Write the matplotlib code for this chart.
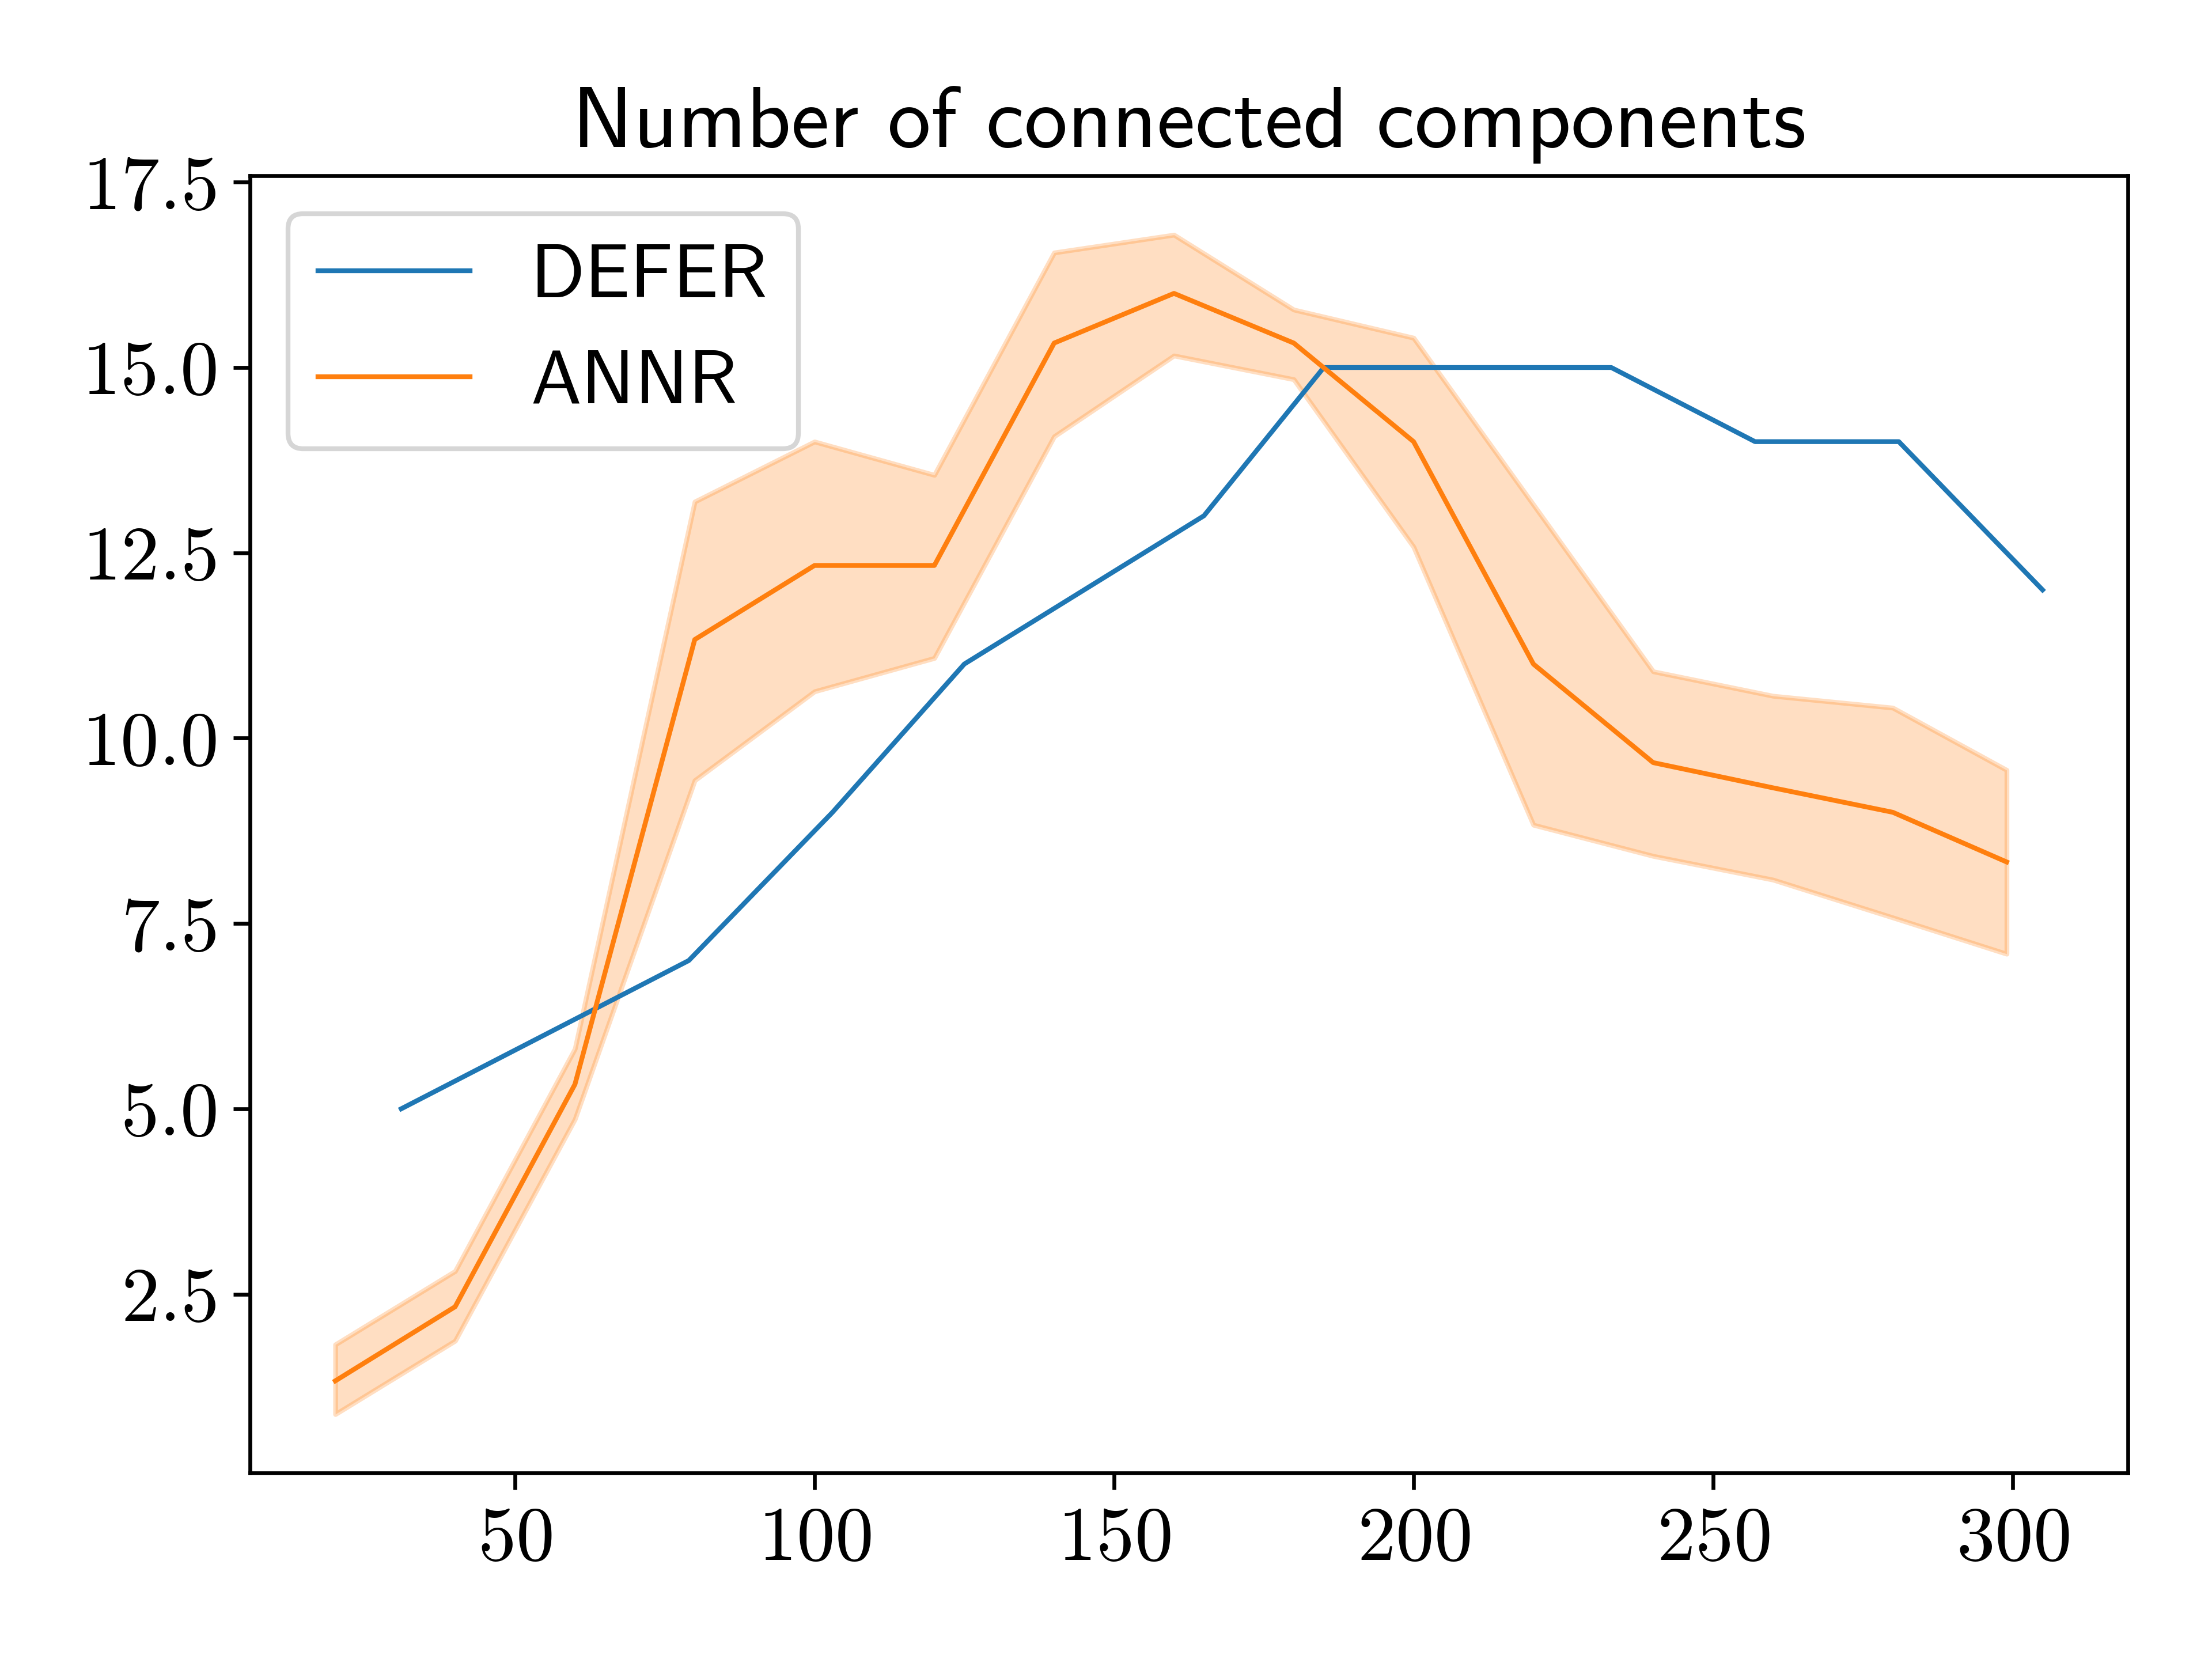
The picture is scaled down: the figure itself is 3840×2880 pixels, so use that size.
import matplotlib
matplotlib.use('Agg')
import matplotlib.pyplot as plt

# values
defer_x = [31, 79, 103, 125, 165, 185, 233, 257, 281, 305]
defer_y = [5, 7, 9, 11, 13, 15, 15, 14, 14, 12]

annr_x = [20, 40, 60, 80, 100, 120, 140, 160, 180, 200, 220, 240, 260, 280, 299]
annr_mean = [1.33, 2.33, 5.33, 11.33, 12.33, 12.33, 15.33, 16.0, 15.33,
             14.0, 11.0, 9.67, 9.33, 9.0, 8.33]
annr_upper = [1.82, 2.81, 5.81, 13.19, 14.0, 13.55, 16.55, 16.79, 15.78,
              15.4, 13.15, 10.9, 10.57, 10.41, 9.57]
annr_lower = [0.88, 1.87, 4.86, 9.43, 10.63, 11.08, 14.07, 15.16, 14.84,
              12.58, 8.83, 8.41, 8.09, 7.58, 7.09]

plt.rcParams['font.family'] = 'cmr10'
plt.rcParams['axes.formatter.use_mathtext'] = True

fig, ax = plt.subplots(figsize=(6.4, 4.8), dpi=600)
fig.subplots_adjust(left=0.113, right=0.962, bottom=0.112, top=0.894)

ax.plot(defer_x, defer_y, color='C0', lw=1.0, label='DEFER')
ax.plot(annr_x, annr_mean, color='C1', lw=1.0, label='ANNR')
ax.fill_between(annr_x, annr_lower, annr_upper, color='C1', alpha=0.25)

ax.tick_params(labelsize=16)
ax.set_title('Number of connected components', fontsize=18, family='cmss10')
ax.legend(loc='upper left', prop={'family': 'cmss10', 'size': 15.8})

fig.savefig('out.png', dpi=600)
